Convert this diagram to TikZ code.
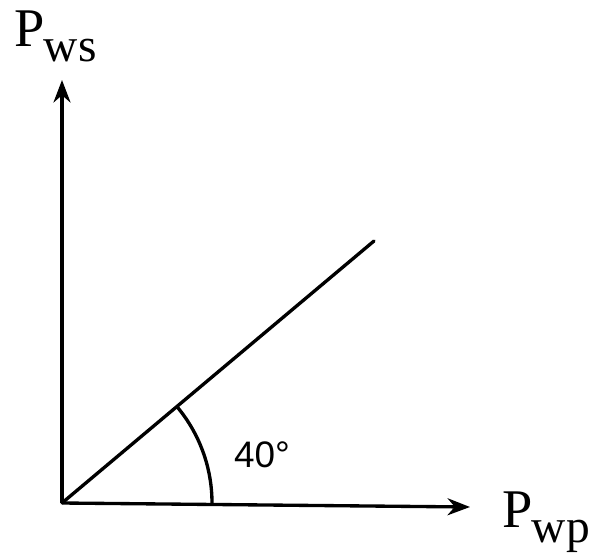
\documentclass[tikz,border=0pt]{standalone}
\usepackage{fontspec}
\setmainfont{Liberation Serif}
\newfontfamily\numfont{Liberation Sans}
\usetikzlibrary{arrows.meta}

\tikzset{
  axis/.style={line width=1.9pt,-{Stealth[length=0.45cm,width=0.34cm]}},
  ray/.style={line width=1.9pt,line cap=round},
  lbl/.style={inner sep=0pt,anchor=base west,font=\fontsize{31}{31}\selectfont},
}
\newcommand{\subw}[1]{\kern-0.5pt\raisebox{-0.3cm}{\fontsize{27}{27}\selectfont #1}}

\begin{document}
\begin{tikzpicture}[x=0.02cm,y=-0.02cm]
\useasboundingbox (0,0) rectangle (591,554);
\coordinate (O) at (62,503); \coordinate (Y) at (62,80); \coordinate (X) at (470,507); \coordinate (E) at (374,241);
\draw[axis] (O)--(Y);
\draw[axis] (O)--(X);
\draw[ray] (O)--(E);
\draw[line width=1.9pt] (O) ++(150,0) arc[start angle=0,end angle=-40,radius=150];
\node[lbl] (pws) at (14,47) {P\subw{ws}};
\node[lbl] (pwp) at (502,527) {P\subw{wp}};
\node[font=\numfont\fontsize{21}{21}\selectfont] (ang) at (262,455) {40\textdegree};
\end{tikzpicture}
\end{document}
